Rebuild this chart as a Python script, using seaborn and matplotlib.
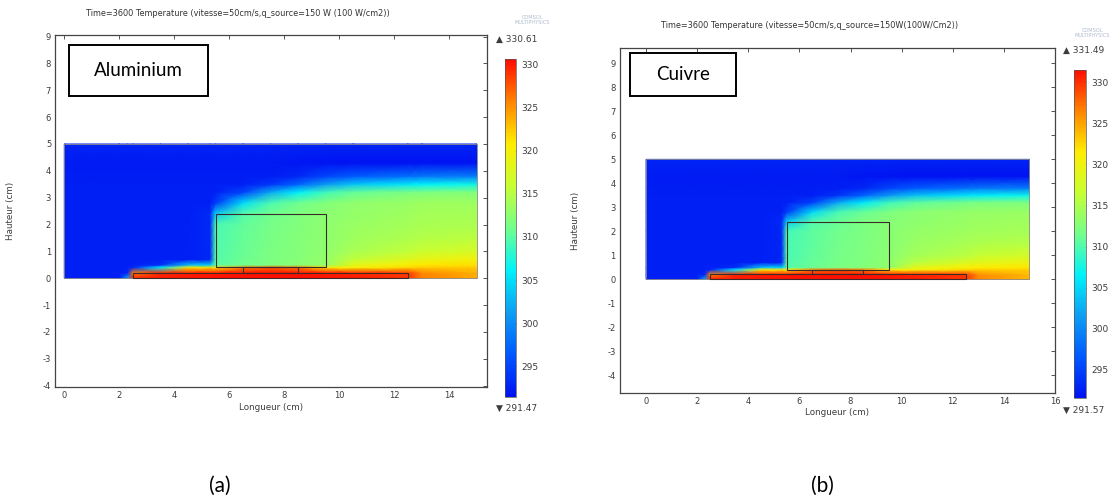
import numpy as np
import matplotlib
matplotlib.use("Agg")
import matplotlib.pyplot as plt
import seaborn as sns
from matplotlib.patches import Rectangle

sns.set_theme(style="white")
plt.rcParams['font.family'] = ['DejaVu Sans']
plt.rcParams['axes.unicode_minus'] = False

# ---------------- data ----------------
# grid nodes (cm) of the sampled temperature field
x_nodes = [0.0, 2.0, 2.3, 2.5, 3.5, 4.5, 5.3, 5.5, 6.5, 7.5, 8.5, 9.5, 10.5, 12.5, 13.0, 15.0]
y_nodes = [0.0, 0.2, 0.4, 0.5, 0.7, 1.0, 1.5, 2.0, 2.4, 2.8, 3.2, 3.5, 3.8, 4.3, 5.0]

# temperature (K) read at the nodes, panel (a) Aluminium
T_alu = [
    [292.5, 292.5, 302.0, 329.5, 330.0, 330.2, 330.3, 330.4, 330.5, 330.6, 330.5, 330.3, 330.0, 329.0, 326.0, 324.0],
    [292.5, 292.5, 293.0, 326.0, 329.5, 329.8, 330.0, 330.1, 330.3, 330.4, 330.3, 330.0, 329.5, 328.5, 325.5, 323.5],
    [292.5, 292.5, 292.5, 293.0, 306.0, 321.0, 321.5, 321.0, 326.0, 327.0, 326.0, 321.0, 320.0, 322.0, 322.5, 322.5],
    [292.5, 292.5, 292.5, 292.5, 293.5, 303.0, 304.0, 310.0, 311.0, 311.8, 312.3, 313.0, 318.5, 320.5, 321.0, 321.5],
    [292.5, 292.5, 292.5, 292.5, 292.5, 292.5, 293.0, 309.8, 310.8, 311.6, 312.2, 313.0, 315.5, 318.0, 318.8, 319.8],
    [292.5, 292.5, 292.5, 292.5, 292.5, 292.5, 293.0, 309.6, 310.6, 311.5, 312.1, 312.8, 314.2, 315.5, 316.2, 317.3],
    [292.5, 292.5, 292.5, 292.5, 292.5, 292.5, 293.0, 309.5, 310.5, 311.4, 312.0, 312.7, 313.6, 314.5, 314.8, 315.3],
    [292.5, 292.5, 292.5, 292.5, 292.5, 292.5, 293.0, 309.3, 310.4, 311.3, 311.9, 312.6, 313.3, 313.9, 314.1, 314.4],
    [292.5, 292.5, 292.5, 292.5, 292.5, 292.5, 293.2, 304.0, 309.8, 311.0, 311.8, 312.5, 313.0, 313.6, 313.8, 314.0],
    [292.5, 292.5, 292.5, 292.5, 292.5, 292.5, 292.5, 294.5, 305.0, 309.5, 311.0, 312.0, 312.8, 313.3, 313.5, 313.6],
    [292.5, 292.5, 292.5, 292.5, 292.5, 292.5, 292.5, 292.5, 295.0, 302.0, 306.0, 309.0, 310.5, 311.5, 311.8, 312.0],
    [292.5, 292.5, 292.5, 292.5, 292.5, 292.5, 292.5, 292.5, 292.5, 294.0, 297.0, 301.0, 303.5, 305.5, 306.0, 307.0],
    [292.3, 292.3, 292.3, 292.3, 292.3, 292.3, 292.3, 292.3, 292.3, 292.3, 293.0, 295.0, 296.5, 298.0, 298.5, 299.0],
    [292.2, 292.2, 292.2, 292.2, 292.2, 292.2, 292.2, 292.2, 292.2, 292.2, 291.8, 291.7, 291.6, 291.6, 291.6, 291.6],
    [292.8, 292.8, 292.8, 292.8, 292.8, 292.8, 292.8, 292.8, 292.8, 292.8, 292.8, 292.8, 292.8, 292.8, 292.8, 292.8],
]

# temperature (K) read at the nodes, panel (b) Cuivre
T_cu = [
    [292.6, 292.6, 302.5, 330.6, 331.0, 331.2, 331.3, 331.4, 331.4, 331.5, 331.4, 331.2, 330.9, 330.0, 326.5, 324.3],
    [292.6, 292.6, 293.0, 326.5, 330.5, 330.8, 331.0, 331.1, 331.2, 331.3, 331.2, 331.0, 330.5, 329.5, 326.0, 323.8],
    [292.6, 292.6, 292.6, 293.0, 306.5, 321.5, 322.0, 321.5, 326.5, 327.5, 326.5, 321.5, 320.5, 322.5, 323.0, 322.8],
    [292.6, 292.6, 292.6, 292.6, 293.5, 303.5, 304.5, 310.2, 311.2, 312.0, 312.5, 313.2, 318.8, 320.8, 321.3, 321.8],
    [292.6, 292.6, 292.6, 292.6, 292.6, 292.6, 293.0, 310.0, 311.0, 311.8, 312.4, 313.2, 315.7, 318.2, 319.0, 320.0],
    [292.6, 292.6, 292.6, 292.6, 292.6, 292.6, 293.0, 309.8, 310.8, 311.7, 312.3, 313.0, 314.4, 315.7, 316.4, 317.5],
    [292.6, 292.6, 292.6, 292.6, 292.6, 292.6, 293.0, 309.7, 310.7, 311.6, 312.2, 312.9, 313.8, 314.7, 315.0, 315.5],
    [292.6, 292.6, 292.6, 292.6, 292.6, 292.6, 293.0, 309.5, 310.6, 311.5, 312.1, 312.8, 313.5, 314.1, 314.3, 314.6],
    [292.6, 292.6, 292.6, 292.6, 292.6, 292.6, 293.2, 304.2, 310.0, 311.2, 312.0, 312.7, 313.2, 313.8, 314.0, 314.2],
    [292.6, 292.6, 292.6, 292.6, 292.6, 292.6, 292.6, 294.6, 305.2, 309.7, 311.2, 312.2, 313.0, 313.5, 313.7, 313.8],
    [292.6, 292.6, 292.6, 292.6, 292.6, 292.6, 292.6, 292.6, 295.0, 302.2, 306.2, 309.2, 310.7, 311.7, 312.0, 312.2],
    [292.6, 292.6, 292.6, 292.6, 292.6, 292.6, 292.6, 292.6, 292.6, 294.0, 297.2, 301.2, 303.7, 305.7, 306.2, 307.2],
    [292.4, 292.4, 292.4, 292.4, 292.4, 292.4, 292.4, 292.4, 292.4, 292.4, 293.0, 295.2, 296.7, 298.2, 298.7, 299.2],
    [292.3, 292.3, 292.3, 292.3, 292.3, 292.3, 292.3, 292.3, 292.3, 292.3, 291.9, 291.8, 291.7, 291.7, 291.7, 291.7],
    [292.9, 292.9, 292.9, 292.9, 292.9, 292.9, 292.9, 292.9, 292.9, 292.9, 292.9, 292.9, 292.9, 292.9, 292.9, 292.9],
]

t_range_alu = [291.47, 330.61]
t_range_cu = [291.57, 331.49]
cbar_ticks = [295, 300, 305, 310, 315, 320, 325, 330]
xticks_a = [0, 2, 4, 6, 8, 10, 12, 14]
xticks_b = [0, 2, 4, 6, 8, 10, 12, 14, 16]
yticks_ab = [-4, -3, -2, -1, 0, 1, 2, 3, 4, 5, 6, 7, 8, 9]

titles = ["Time=3600 Temperature (vitesse=50cm/s,q_source=150 W (100 W/cm2))",
          "Time=3600 Temperature (vitesse=50cm/s,q_source=150W(100W/Cm2))"]
materials = ["Aluminium", "Cuivre"]
panel_tags = ["(a)", "(b)"]
xlabel = "Longueur (cm)"
ylabel = "Hauteur (cm)"

# geometry (x0, x1, y0, y1) in cm
domain = [0.0, 15.0, 0.0, 5.0]
plate = [2.5, 12.5, 0.0, 0.2]
source = [6.5, 8.5, 0.2, 0.4]
block = [5.5, 9.5, 0.4, 2.4]

# ---------------- figure ----------------
W, H = 1118, 498
fig = plt.figure(figsize=(W / 100, H / 100), dpi=100)
fig.patch.set_facecolor("white")

def frac(left, top, right, bottom):
    return [left / W, 1 - bottom / H, (right - left) / W, (bottom - top) / H]

cmap = sns.blend_palette([
    (0.00, 0.07, 0.95), (0.00, 0.35, 1.00), (0.05, 0.62, 0.95), (0.00, 0.95, 0.98),
    (0.45, 1.00, 0.55), (0.78, 1.00, 0.20), (1.00, 0.93, 0.00), (1.00, 0.52, 0.00),
    (1.00, 0.05, 0.00)], as_cmap=True)

panels = [
    dict(T=T_alu, rng=t_range_alu, ax=frac(55.3, 35.5, 486.7, 386.7), xlim=(-0.327, 15.36),
         ylim=(-4.04, 9.04), xticks=xticks_a, cax=frac(505, 59.3, 516, 396.7),
         title_xy=(238, 14), mat_box=(0.18, 5.21, 6.79, 8.67), tag_xy=(220, 486),
         hi_xy=(496, 39), lo_xy=(496, 408), logo_xy=(532, 20), ylab_x=-0.093),
    dict(T=T_cu, rng=t_range_cu, ax=frac(620, 48.3, 1055, 392.5), xlim=(-1.02, 16.0),
         ylim=(-4.72, 9.63), xticks=xticks_b, cax=frac(1074, 70, 1086, 398),
         title_xy=(810, 26), mat_box=(-0.63, 3.50, 7.63, 9.44), tag_xy=(822, 486),
         hi_xy=(1063, 50), lo_xy=(1063, 410), logo_xy=(1092, 33), ylab_x=-0.092),
]

X, Y = np.meshgrid(x_nodes, y_nodes)
grey = "#3c3c3c"

for i, p in enumerate(panels):
    ax = fig.add_axes(p["ax"])
    ax.set_facecolor("white")
    Z = np.array(p["T"])
    m = ax.pcolormesh(X, Y, Z, shading="gouraud", cmap=cmap, vmin=p["rng"][0], vmax=p["rng"][1])
    ax.add_patch(Rectangle((domain[0], domain[2]), domain[1] - domain[0], domain[3] - domain[2],
                           fill=False, ec="#8a8a8a", lw=0.6))
    for g in (plate, source, block):
        ax.add_patch(Rectangle((g[0], g[2]), g[1] - g[0], g[3] - g[2], fill=False, ec="#3a2a2a", lw=0.8))
    mb = p["mat_box"]
    ax.add_patch(Rectangle((mb[0], mb[2]), mb[1] - mb[0], mb[3] - mb[2], fill=True, fc="white",
                           ec="black", lw=1.4, zorder=5))
    ax.text((mb[0] + mb[1]) / 2, (mb[2] + mb[3]) / 2, materials[i], ha="center", va="center",
            fontsize=13.5, family=["Lato", "DejaVu Sans"], color="black", zorder=6)
    ax.set_xlim(*p["xlim"])
    ax.set_ylim(*p["ylim"])
    ax.set_xticks(p["xticks"])
    ax.set_yticks(yticks_ab)
    ax.tick_params(direction="in", length=3, width=0.6, labelsize=6, colors=grey,
                   top=True, right=True, labeltop=False, labelright=False, pad=3)
    for s in ax.spines.values():
        s.set_color("#444444")
        s.set_linewidth(0.9)
    ax.set_xlabel(xlabel, fontsize=6.3, color=grey, labelpad=2)
    ax.set_ylabel(ylabel, fontsize=6.3, color=grey)
    ax.yaxis.set_label_coords(p["ylab_x"], 0.5)
    ax.grid(False)

    cax = fig.add_axes(p["cax"])
    cb = fig.colorbar(m, cax=cax, ticks=cbar_ticks)
    cb.outline.set_edgecolor("#555555")
    cb.outline.set_linewidth(0.5)
    cax.tick_params(labelsize=6.5, length=2, width=0.5, direction="in", colors=grey, pad=4)

    fig.text(p["title_xy"][0] / W, 1 - p["title_xy"][1] / H, titles[i], ha="center", va="center",
             fontsize=5.9, color="#333333")
    fig.text(p["hi_xy"][0] / W, 1 - p["hi_xy"][1] / H, "\u25b2 %.2f" % p["rng"][1], ha="left",
             va="center", fontsize=6.5, color=grey)
    fig.text(p["lo_xy"][0] / W, 1 - p["lo_xy"][1] / H, "\u25bc %.2f" % p["rng"][0], ha="left",
             va="center", fontsize=6.5, color=grey)
    fig.text(p["logo_xy"][0] / W, 1 - p["logo_xy"][1] / H, "COMSOL\nMULTIPHYSICS", ha="center",
             va="center", fontsize=3.6, color="#aebccc", linespacing=1.0)
    fig.text(p["tag_xy"][0] / W, 1 - p["tag_xy"][1] / H, panel_tags[i], ha="center", va="center",
             fontsize=15, family=["Lato", "DejaVu Sans"], color="black")

fig.savefig("out.png", dpi=100)
